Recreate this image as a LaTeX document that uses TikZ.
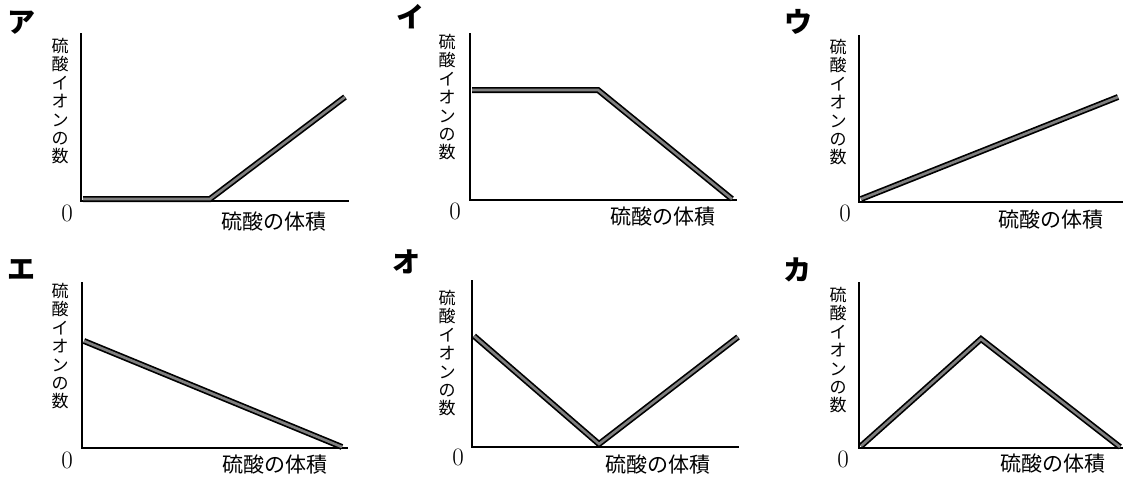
\documentclass[tikz,border=0pt]{standalone}
\usepackage{fontspec}
\newfontfamily\jpfont{Noto Sans CJK JP}
\usetikzlibrary{positioning}

\tikzset{
	axis/.style={line width=1.4pt},
	ionline/.style={line width=1.7pt, double=black!50, double distance=2.6pt, line join=miter},
	panellabel/.style={font=\jpfont\bfseries\fontsize{28}{28}\selectfont, inner sep=0pt},
	ylab/.style={font=\jpfont\fontsize{17}{18.4}\selectfont, align=center, anchor=north, inner sep=0pt},
	xlab/.style={font=\jpfont\fontsize{21}{21}\selectfont, anchor=west, inner sep=0pt},
	zerolab/.style={font=\fontsize{25}{25}\selectfont, inner sep=0pt},
}

\begin{document}
\begin{tikzpicture}[x=1pt, y=-1pt]
	\useasboundingbox (0,0) rectangle (1123,477);

	% ア
	\coordinate (a-o) at (81,201);
	\coordinate (a-y) at (81,33);
	\coordinate (a-x) at (349,201);
	\draw[axis] (a-y) -- (a-o) -- (a-x);
	\node[panellabel] (a-lab) at (21,23) {ア};
	\node[ylab] (a-ylab) at (60,38) {硫\\酸\\イ\\オ\\ン\\の\\数};
	\node[zerolab] (a-zero) at (67,213) {0};
	\node[xlab] (a-xlab) at (221,222) {硫酸の体積};
	\draw[ionline] (83,199) -- (210,199) -- (345,97);

	% イ
	\coordinate (b-o) at (470,200);
	\coordinate (b-y) at (470,33);
	\coordinate (b-x) at (737,200);
	\draw[axis] (b-y) -- (b-o) -- (b-x);
	\node[panellabel] (b-lab) at (410,17) {イ};
	\node[ylab] (b-ylab) at (447,34) {硫\\酸\\イ\\オ\\ン\\の\\数};
	\node[zerolab] (b-zero) at (455,211) {0};
	\node[xlab] (b-xlab) at (610,217) {硫酸の体積};
	\draw[ionline] (472,90) -- (598,90) -- (732,199);

	% ウ
	\coordinate (c-o) at (859,202);
	\coordinate (c-y) at (859,35);
	\coordinate (c-x) at (1123,202);
	\draw[axis] (c-y) -- (c-o) -- (c-x);
	\node[panellabel] (c-lab) at (798,22) {ウ};
	\node[ylab] (c-ylab) at (838,39) {硫\\酸\\イ\\オ\\ン\\の\\数};
	\node[zerolab] (c-zero) at (845,213) {0};
	\node[xlab] (c-xlab) at (998,220) {硫酸の体積};
	\draw[ionline] (861,199) -- (1118,97);

	% エ
	\coordinate (d-o) at (82,448);
	\coordinate (d-y) at (82,282);
	\coordinate (d-x) at (348,448);
	\draw[axis] (d-y) -- (d-o) -- (d-x);
	\node[panellabel] (d-lab) at (21,269) {エ};
	\node[ylab] (d-ylab) at (60,283) {硫\\酸\\イ\\オ\\ン\\の\\数};
	\node[zerolab] (d-zero) at (67,460) {0};
	\node[xlab] (d-xlab) at (222,465) {硫酸の体積};
	\draw[ionline] (84,341) -- (342,447);

	% オ
	\coordinate (e-o) at (472,447);
	\coordinate (e-y) at (472,280);
	\coordinate (e-x) at (739,447);
	\draw[axis] (e-y) -- (e-o) -- (e-x);
	\node[panellabel] (e-lab) at (406,262) {オ};
	\node[ylab] (e-ylab) at (447,290) {硫\\酸\\イ\\オ\\ン\\の\\数};
	\node[zerolab] (e-zero) at (458,457) {0};
	\node[xlab] (e-xlab) at (605,465) {硫酸の体積};
	\draw[ionline] (474,336) -- (599,444) -- (738,337);

	% カ
	\coordinate (f-o) at (859,448);
	\coordinate (f-y) at (859,282);
	\coordinate (f-x) at (1123,448);
	\draw[axis] (f-y) -- (f-o) -- (f-x);
	\node[panellabel] (f-lab) at (797,270) {カ};
	\node[ylab] (f-ylab) at (838,287) {硫\\酸\\イ\\オ\\ン\\の\\数};
	\node[zerolab] (f-zero) at (843,459) {0};
	\node[xlab] (f-xlab) at (1000,464) {硫酸の体積};
	\draw[ionline] (861,446) -- (981,339) -- (1120,447);
\end{tikzpicture}
\end{document}
